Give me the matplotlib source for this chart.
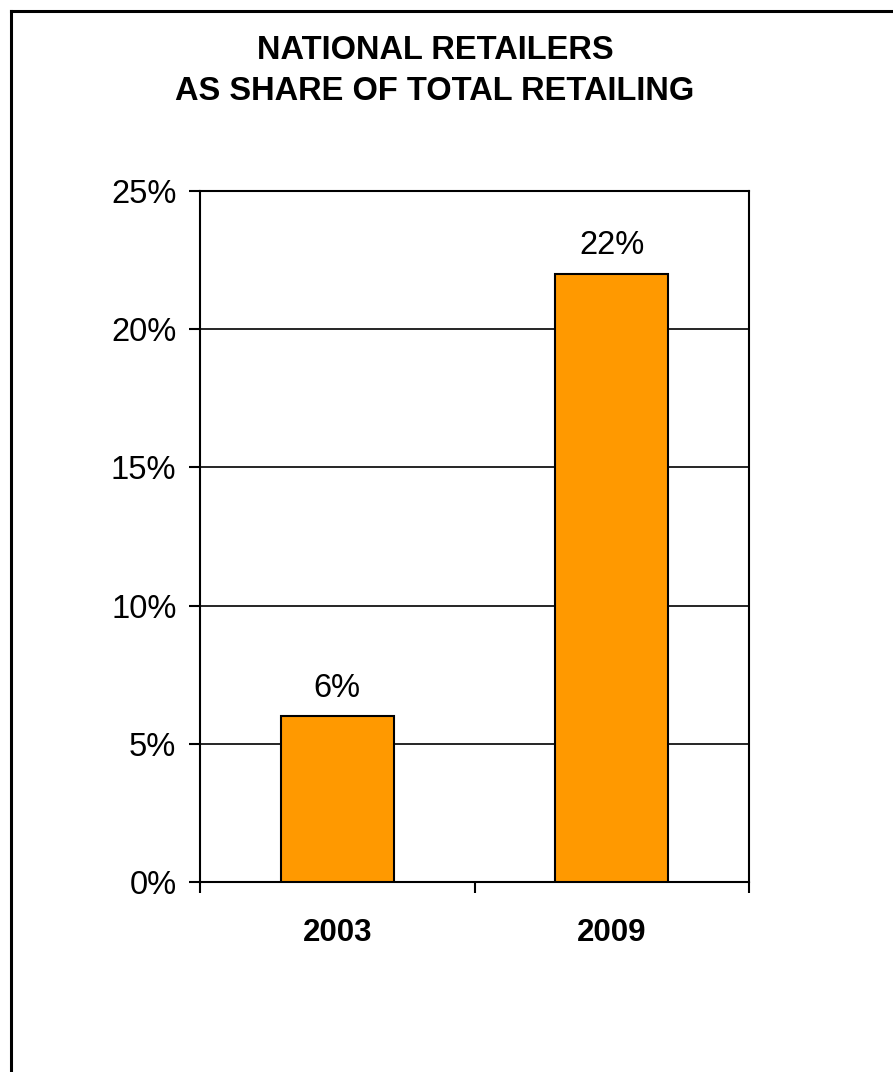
import matplotlib
matplotlib.use("Agg")
import matplotlib.pyplot as plt
from matplotlib.lines import Line2D
from matplotlib.ticker import FuncFormatter

plt.rcParams['font.family'] = ['Liberation Sans', 'DejaVu Sans']

years = ["2003", "2009"]
shares = [6, 22]
y_ticks = [0, 5, 10, 15, 20, 25]
title = "NATIONAL RETAILERS\nAS SHARE OF TOTAL RETAILING"

W, H = 893, 1072
fig = plt.figure(figsize=(W / 100, H / 100), dpi=100)

# outer frame (left and top edges visible)
fig.add_artist(Line2D([10.5 / W, 10.5 / W], [1 - 10.5 / H, -0.1], color="black", lw=2.2,
                      transform=fig.transFigure))
fig.add_artist(Line2D([10.5 / W, 1.1], [1 - 10.5 / H, 1 - 10.5 / H], color="black", lw=2.2,
                      transform=fig.transFigure))

ax = fig.add_axes([200 / W, 1 - 882 / H, 549 / W, 691 / H])
x = range(len(years))
ax.bar(x, shares, width=0.41, color="#FF9900", edgecolor="black", linewidth=1.5, zorder=3)
for xi, v in zip(x, shares):
    ax.text(xi, v + 0.45, f"{v}%", ha="center", va="bottom", fontsize=23.5)

ax.set_xlim(-0.5, len(years) - 0.5)
ax.set_ylim(0, 25)
ax.set_yticks(y_ticks)
ax.yaxis.set_major_formatter(FuncFormatter(lambda v, p: f"{int(v)}%"))
ax.set_xticks([-0.5, 0.5, 1.5])
ax.set_xticklabels([])
ax.set_xticks(list(x), minor=True)
ax.set_xticklabels(years, minor=True, fontsize=22.5, fontweight="bold")
ax.tick_params(axis="x", which="minor", length=0, pad=26)
ax.tick_params(axis="x", which="major", direction="out", length=8, width=1.5)
ax.tick_params(axis="y", direction="out", length=8, width=1.5, labelsize=23.5, pad=9)
ax.grid(axis="y", color="black", linewidth=1.2, zorder=0)
for s in ax.spines.values():
    s.set_linewidth(1.5)

fig.text(435 / W, 1 - 71 / H, title, ha="center", va="center", fontsize=23.5,
         fontweight="bold", linespacing=1.38)

fig.savefig("out.png", dpi=100, facecolor="white")
